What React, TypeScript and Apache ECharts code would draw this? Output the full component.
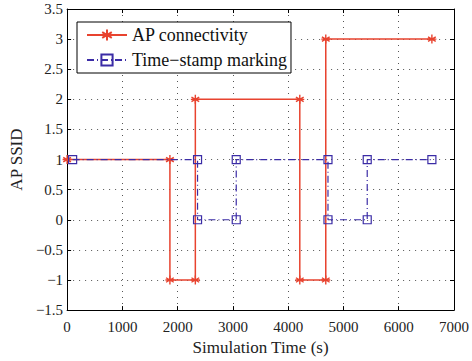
import React, { useEffect, useRef } from "react";
import * as echarts from "echarts";

const apTimes = [0, 1860, 1860, 2320, 2320, 4210, 4210, 4680, 4680, 6600];
const apSsid = [1, 1, -1, -1, 2, 2, -1, -1, 3, 3];
const tsTimes = [100, 2360, 2360, 3060, 3060, 4720, 4720, 5430, 5430, 6600];
const tsValues = [1, 1, 0, 0, 1, 1, 0, 0, 1, 1];
const seriesNames = ["AP connectivity", "Time\u2212stamp marking"];
const xTitle = "Simulation Time (s)";
const yTitle = "AP SSID";

const FONT = "Liberation Serif";
const RED = "#e8432f";
const BLUE = "#3b2ca6";

export default function App() {
  const ref = useRef<HTMLDivElement>(null);
  useEffect(() => {
    document.body.style.margin = "0";
    const chart = echarts.init(ref.current!, null, { renderer: "svg" });
    const asterisk =
      "path://M5,0L5,10M0.7,2.5L9.3,7.5M0.7,7.5L9.3,2.5M0,5L10,5";
    const tickStyle = { show: true, inside: true, length: 4, lineStyle: { color: "#000" } };
    const axisLine = { show: true, onZero: false, lineStyle: { color: "#000", width: 1 } };
    const split = { show: true, lineStyle: { color: "#555", type: [1, 5] as any, width: 1 } };
    const fmtY = (v: number) => String(v).replace("-", "\u2212");
    const fmtX = (v: number) => String(v);
    chart.setOption({
      animation: false,
      backgroundColor: "#fff",
      textStyle: { fontFamily: FONT },
      grid: { left: 67, right: 15, top: 9, bottom: 45, containLabel: false },
      legend: {
        show: true,
        left: 77,
        top: 22,
        orient: "vertical",
        backgroundColor: "#fff",
        borderColor: "#000",
        borderWidth: 1,
        borderRadius: 0,
        padding: [4, 4, 4, 9],
        itemWidth: 40,
        itemHeight: 14,
        itemGap: 7,
        textStyle: { fontFamily: FONT, fontSize: 18, color: "#111" },
        data: seriesNames,
      },
      xAxis: [
        {
          type: "value",
          min: 0,
          max: 7000,
          interval: 1000,
          position: "bottom",
          axisLine,
          axisTick: tickStyle,
          splitLine: split,
          axisLabel: { fontFamily: FONT, fontSize: 15, color: "#222", margin: 9, formatter: fmtX },
          name: xTitle,
          nameLocation: "middle",
          nameGap: 23,
          nameTextStyle: { fontFamily: FONT, fontSize: 17, color: "#222" },
        },
        {
          type: "value",
          min: 0,
          max: 7000,
          interval: 1000,
          position: "top",
          axisLine,
          axisTick: tickStyle,
          splitLine: { show: false },
          axisLabel: { show: false },
        },
      ],
      yAxis: [
        {
          type: "value",
          min: -1.5,
          max: 3.5,
          interval: 0.5,
          position: "left",
          axisLine,
          axisTick: tickStyle,
          splitLine: split,
          axisLabel: { fontFamily: FONT, fontSize: 15, color: "#222", margin: 4, formatter: fmtY },
          name: yTitle,
          nameLocation: "middle",
          nameGap: 41,
          nameTextStyle: { fontFamily: FONT, fontSize: 17, color: "#222" },
        },
        {
          type: "value",
          min: -1.5,
          max: 3.5,
          interval: 0.5,
          position: "right",
          axisLine,
          axisTick: tickStyle,
          splitLine: { show: false },
          axisLabel: { show: false },
        },
      ],
      series: [
        {
          name: seriesNames[0],
          type: "line",
          xAxisIndex: 0,
          yAxisIndex: 0,
          data: apTimes.map((t, i) => [t, apSsid[i]]),
          symbol: asterisk,
          symbolSize: 9,
          showAllSymbol: true,
          lineStyle: { color: RED, width: 1.5 },
          itemStyle: { color: "none", borderColor: RED, borderWidth: 1.4 },
          z: 3,
        },
        {
          name: seriesNames[1],
          type: "line",
          xAxisIndex: 0,
          yAxisIndex: 0,
          data: tsTimes.map((t, i) => [t, tsValues[i]]),
          symbol: "rect",
          symbolSize: 8,
          showAllSymbol: true,
          lineStyle: { color: BLUE, width: 1.2, type: [7, 3, 1, 3] as any },
          itemStyle: { color: "none", borderColor: BLUE, borderWidth: 1.2 },
          z: 4,
        },
      ],
    });
    return () => chart.dispose();
  }, []);
  return <div ref={ref} style={{ width: 472, height: 361 }} />;
}
